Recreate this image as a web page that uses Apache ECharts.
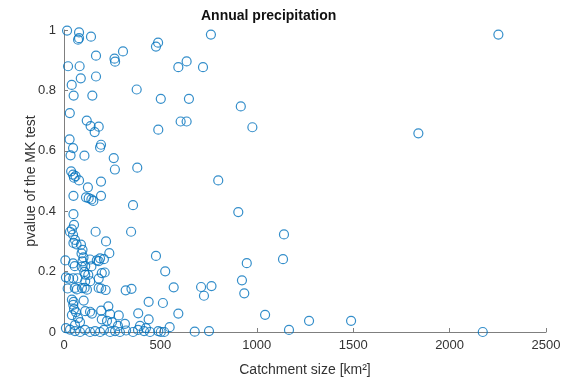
<!DOCTYPE html>
<html>
<head>
<meta charset="utf-8">
<script src="https://cdn.jsdelivr.net/npm/echarts@6/dist/echarts.min.js"></script>
<style>
  html, body { margin: 0; padding: 0; background: #fff; }
  #main { width: 573px; height: 383px; }
</style>
</head>
<body>
<div id="main"></div>
<script>
// catchment size [km2] and MK test p-value
const catchmentSize = [
  16, 78, 73, 78, 140, 166, 262, 265, 306, 488, 477, 762, 636, 593, 721, 21, 81, 40, 87, 166,
  50, 147, 377, 502, 648, 917, 605, 636, 977, 489, 1838, 2253, 30, 118, 138, 180, 159, 29, 47, 34,
  106, 192, 187, 258, 264, 380, 37, 47, 60, 52, 78, 124, 192, 49, 114, 128, 142, 152, 192, 800,
  358, 904, 49, 52, 31, 41, 164, 348, 1141, 477, 525, 1136, 948, 923, 935, 320, 350, 569, 711, 765,
  726, 439, 513, 385, 593, 439, 548, 489, 502, 520, 678, 752, 1043, 1271, 1489, 1167, 2172,
  47, 57, 49, 65, 88, 96, 91, 101, 96, 218, 235, 187, 207, 7, 47, 56, 135, 170, 180, 110,
  142, 92, 105, 110, 211, 10, 26, 48, 70, 126, 136, 110, 180, 196, 19, 56, 67, 93, 107, 119,
  180, 193, 216, 41, 50, 102, 48, 230, 193, 110, 52, 62, 41, 73, 83, 57, 135, 145, 239, 284,
  196, 223, 249, 10, 31, 57, 83, 109, 135, 161, 187, 207, 239, 265, 290, 322, 358, 384, 415, 446,
  280, 316, 394, 425
];
const pValue = [
  0.998, 0.992, 0.968, 0.973, 0.978, 0.915, 0.905, 0.895, 0.929, 0.958, 0.945, 0.985, 0.896, 0.877, 0.877, 0.880, 0.880, 0.818, 0.840, 0.846,
  0.783, 0.783, 0.803, 0.772, 0.772, 0.747, 0.697, 0.697, 0.678, 0.670, 0.658, 0.985, 0.725, 0.700, 0.682, 0.680, 0.662, 0.638, 0.609, 0.585,
  0.584, 0.620, 0.611, 0.576, 0.538, 0.544, 0.532, 0.521, 0.516, 0.511, 0.502, 0.479, 0.498, 0.451, 0.446, 0.443, 0.439, 0.434, 0.451, 0.502,
  0.420, 0.397, 0.390, 0.355, 0.332, 0.340, 0.332, 0.332, 0.323, 0.252, 0.201, 0.241, 0.228, 0.171, 0.128, 0.138, 0.143, 0.148, 0.149, 0.152,
  0.120, 0.100, 0.096, 0.062, 0.061, 0.042, 0.016, 0.003, 0.000, 0.000, 0.001, 0.003, 0.057, 0.037, 0.037, 0.007, 0.000,
  0.322, 0.305, 0.295, 0.290, 0.289, 0.272, 0.260, 0.247, 0.234, 0.300, 0.261, 0.244, 0.241, 0.237, 0.227, 0.218, 0.240, 0.237, 0.235, 0.218,
  0.217, 0.216, 0.199, 0.190, 0.197, 0.181, 0.177, 0.178, 0.178, 0.189, 0.168, 0.168, 0.177, 0.195, 0.144, 0.146, 0.141, 0.145, 0.146, 0.140,
  0.146, 0.144, 0.139, 0.107, 0.100, 0.104, 0.090, 0.085, 0.071, 0.069, 0.076, 0.066, 0.056, 0.046, 0.033, 0.023, 0.067, 0.061, 0.059, 0.055,
  0.042, 0.037, 0.033, 0.013, 0.008, 0.003, 0.000, 0.007, 0.000, 0.003, 0.000, 0.007, 0.000, 0.003, 0.000, 0.005, 0.000, 0.007, 0.003, 0.000,
  0.020, 0.027, 0.020, 0.013
];

const chartDom = document.getElementById('main');
const myChart = echarts.init(chartDom);
const font = "'Liberation Sans', Arial, Helvetica, sans-serif";
const axisGray = '#7f7f7f';
const textGray = '#333';

const points = catchmentSize.map((x, i) => [x, pValue[i]]);

const option = {
  animation: false,
  title: {
    text: 'Annual precipitation',
    left: 201,
    top: 9,
    padding: 0,
    textStyle: { fontFamily: font, fontSize: 14, fontWeight: 'bold', color: '#111' }
  },
  grid: { left: 64, right: 27, top: 30, bottom: 51 },
  xAxis: {
    type: 'value',
    min: 0,
    max: 2500,
    interval: 500,
    name: 'Catchment size [km²]',
    nameLocation: 'middle',
    nameGap: 31,
    nameMoveOverlap: false,
    nameTextStyle: { fontFamily: font, fontSize: 14, color: textGray },
    splitLine: { show: false },
    axisLine: { show: true, lineStyle: { color: axisGray, width: 1 } },
    axisTick: { show: true, inside: true, length: 4, lineStyle: { color: axisGray } },
    axisLabel: { fontFamily: font, fontSize: 13, color: textGray, margin: 7, formatter: v => String(v) }
  },
  yAxis: {
    type: 'value',
    min: 0,
    max: 1,
    interval: 0.2,
    name: 'pvalue of the MK test',
    nameLocation: 'middle',
    nameGap: 26,
    nameMoveOverlap: false,
    nameTextStyle: { fontFamily: font, fontSize: 14, color: textGray },
    splitLine: { show: false },
    axisLine: { show: true, lineStyle: { color: axisGray, width: 1 } },
    axisTick: { show: true, inside: true, length: 4, lineStyle: { color: axisGray } },
    axisLabel: { fontFamily: font, fontSize: 13, color: textGray, margin: 8 }
  },
  series: [
    {
      type: 'scatter',
      data: points,
      clip: false,
      symbol: 'circle',
      symbolSize: 9,
      itemStyle: { color: 'transparent', borderColor: '#0072BD', borderWidth: 1.2 }
    }
  ]
};

myChart.setOption(option);
</script>
</body>
</html>
